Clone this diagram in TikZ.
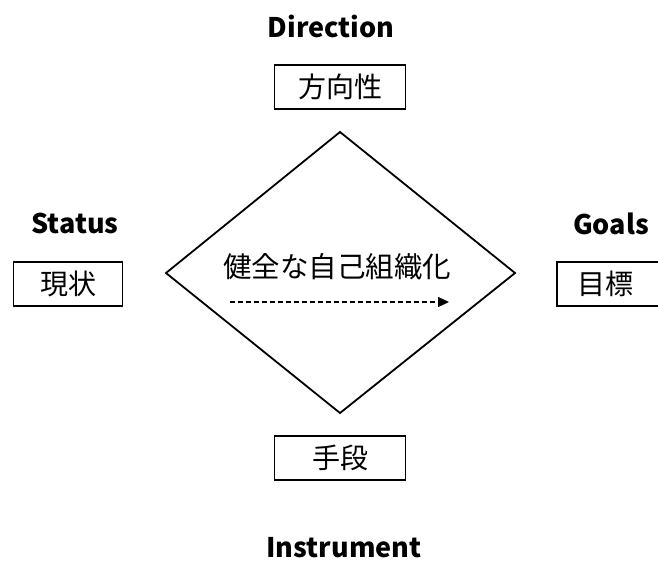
\documentclass[tikz,border=0pt]{standalone}
\usepackage{fontspec}
\newfontfamily\jp{Noto Sans CJK JP}
\usetikzlibrary{arrows.meta}

\tikzset{
  box/.style={draw, line width=1.6pt, minimum width=131pt, minimum height=44pt, inner sep=0pt, font=\jp\fontsize{28}{32}\selectfont},
  label/.style={font=\jp\bfseries\fontsize{27}{31}\selectfont, inner sep=0pt}
}

\begin{document}
\begin{tikzpicture}[x=1pt, y=-1pt]
				\useasboundingbox (0,0) rectangle (658,562);
				
				% diamond corners
				\foreach \x/\y/\z in
				{T/340/132, L/166/273, R/515/273, B/340/413}{
					\coordinate(\x) at (\y,\z);
				}
				\draw[line width=1.8pt, line join=miter] (T)--(R)--(B)--(L)--cycle;
				
				% boxes
				\node[box] (dir) at (340,87) {方向性};
				\node[box, minimum width=109pt] (stat) at (68,284) {現状};
				\node[box, minimum width=106pt] (goal) at (610,284) {目標\hspace*{10pt}};
				\node[box] (inst) at (340,458) {手段};
				
				% labels
				\node[label] (dirlab) at (331,26) {Direction};
				\node[label] (statlab) at (75,223) {Status};
				\node[label] (goallab) at (611,224) {Goals};
				\node[label] (instlab) at (344,548) {Instrument};
				
				% centre
				\node[font=\jp\fontsize{28.5}{32}\selectfont, inner sep=0pt] (mid) at (337,267) {健全な自己組織化};
				\coordinate (a0) at (230,302);
				\coordinate (a1) at (449,302);
				\draw[line width=1.2pt, dash pattern=on 5pt off 3pt, -{Triangle[length=11pt, width=10pt]}] (a0)--(a1);
			\end{tikzpicture}
\end{document}
